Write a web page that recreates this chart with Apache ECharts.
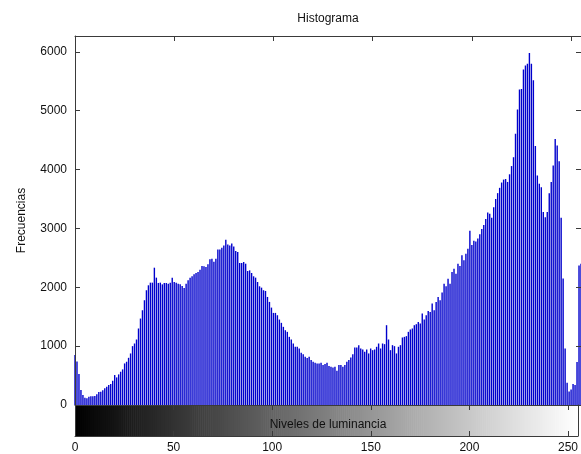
<!DOCTYPE html>
<html>
<head>
<meta charset="utf-8">
<script src="https://cdn.jsdelivr.net/npm/echarts@6/dist/echarts.min.js"></script>
<style>
  html, body { margin: 0; padding: 0; background: #ffffff; }
  #chart { width: 581px; height: 454px; }
</style>
</head>
<body>
<div id="chart"></div>
<script>
// Pixel counts per luminance level (0..255)
const counts = [
  848, 740, 525, 254, 170, 124, 113, 141, 147, 147,
  153, 181, 220, 226, 249, 283, 311, 339, 356, 412,
  509, 469, 520, 565, 605, 706, 735, 802, 876, 1000,
  1045, 1113, 1300, 1469, 1610, 1780, 1950, 2034, 2079, 2079,
  2333, 2164, 2074, 2079, 2050, 2074, 2074, 2062, 2079, 2164,
  2090, 2079, 2062, 2050, 2022, 1990, 2062, 2119, 2164, 2187,
  2220, 2243, 2260, 2300, 2362, 2356, 2345, 2390, 2475, 2486,
  2435, 2486, 2644, 2644, 2672, 2712, 2808, 2729, 2712, 2746,
  2695, 2616, 2599, 2413, 2413, 2430, 2401, 2277, 2288, 2243,
  2187, 2164, 2090, 2017, 1994, 1950, 1938, 1836, 1752, 1655,
  1565, 1565, 1525, 1452, 1396, 1328, 1271, 1243, 1158, 1113,
  1045, 989, 989, 960, 887, 864, 819, 797, 819, 763,
  734, 718, 706, 706, 718, 678, 695, 718, 661, 650,
  638, 650, 582, 678, 678, 650, 678, 734, 763, 808,
  864, 977, 977, 1017, 960, 943, 904, 943, 876, 960,
  932, 943, 989, 1045, 960, 1045, 1034, 1356, 1113, 932,
  1017, 1000, 876, 989, 1017, 1147, 1158, 1170, 1243, 1283,
  1300, 1356, 1373, 1412, 1384, 1554, 1452, 1525, 1599, 1582,
  1723, 1610, 1751, 1836, 1780, 1910, 2062, 2017, 2147, 2062,
  2260, 2316, 2232, 2401, 2362, 2543, 2458, 2571, 2655, 2960,
  2720, 2790, 2780, 2830, 2900, 2990, 3060, 3160, 3270, 3250,
  3180, 3360, 3500, 3600, 3690, 3780, 3830, 3840, 3790, 3920,
  4060, 4210, 4610, 5020, 5360, 5370, 5700, 5770, 5800, 5980,
  5800, 5520, 4400, 3900, 3760, 3700, 3280, 3190, 3280, 3600,
  3790, 4070, 4520, 4410, 4140, 3180, 2150, 960, 380, 230,
  265, 355, 340, 730, 2370, 2400
];

// Gray levels shown on the horizontal axis and in the shade strip
const grayLevels = counts.map((_, i) => i);

// Axis extents and tick spacing
const levelMin = 0;
const levelMax = 255;
const levelTickStep = 50;
const countMin = 0;
const countMax = 6270;
const countTickStep = 1000;

const FONT = "'Liberation Sans', Arial, Helvetica, sans-serif";
const AXIS_COLOR = '#3a3a3a';
const TEXT_COLOR = '#111111';
const STEM_COLOR = '#0000cc';

const chart = echarts.init(document.getElementById('chart'), null, { renderer: 'canvas' });

const boxLine = { show: true, onZero: false, lineStyle: { color: AXIS_COLOR, width: 1 } };
const inTick = { show: true, inside: true, length: 5, lineStyle: { color: AXIS_COLOR } };

const option = {
  animation: false,
  backgroundColor: '#ffffff',
  grid: [
    { left: 75, top: 36, width: 507.6, height: 369 },
    { left: 75, top: 405, width: 507.6, height: 31 }
  ],
  xAxis: [
    { // histogram, bottom edge (carries the axis title, drawn over the shade strip)
      type: 'value', gridIndex: 0, position: 'bottom', z: 10,
      min: levelMin, max: levelMax, interval: levelTickStep,
      axisLine: { show: false, onZero: false }, axisTick: { show: false }, axisLabel: { show: false },
      splitLine: { show: false },
      name: 'Niveles de luminancia', nameLocation: 'middle', nameGap: 14,
      nameTextStyle: { fontFamily: FONT, fontSize: 12, color: TEXT_COLOR }
    },
    { // histogram, top edge (carries the title)
      type: 'value', gridIndex: 0, position: 'top',
      min: levelMin, max: levelMax, interval: levelTickStep,
      axisLine: boxLine, axisTick: inTick,
      axisLabel: { show: false }, splitLine: { show: false },
      name: 'Histograma', nameLocation: 'middle', nameGap: 11,
      nameTextStyle: { fontFamily: FONT, fontSize: 12, color: TEXT_COLOR }
    },
    { // shade strip, bottom edge with the level labels
      type: 'value', gridIndex: 1, position: 'bottom', z: 5,
      min: levelMin, max: levelMax, interval: levelTickStep,
      axisLine: boxLine, axisTick: inTick,
      axisLabel: { show: true, margin: 6, fontFamily: FONT, fontSize: 12, color: TEXT_COLOR,
                   showMaxLabel: false },
      splitLine: { show: false }
    },
    { // shade strip, top edge
      type: 'value', gridIndex: 1, position: 'top', z: 5,
      min: levelMin, max: levelMax, interval: levelTickStep,
      axisLine: boxLine, axisTick: inTick,
      axisLabel: { show: false }, splitLine: { show: false }
    }
  ],
  yAxis: [
    {
      type: 'value', gridIndex: 0, position: 'left', z: 5,
      min: countMin, max: countMax, interval: countTickStep,
      axisLine: boxLine, axisTick: inTick,
      axisLabel: { show: true, margin: 8, fontFamily: FONT, fontSize: 12, color: TEXT_COLOR,
                   showMaxLabel: false,
                   formatter: v => (v % countTickStep === 0 ? String(v) : '') },
      splitLine: { show: false },
      name: 'Frecuencias', nameLocation: 'middle', nameGap: 47,
      nameTextStyle: { fontFamily: FONT, fontSize: 12, color: TEXT_COLOR }
    },
    {
      type: 'value', gridIndex: 0, position: 'right', z: 5,
      min: countMin, max: countMax, interval: countTickStep,
      axisLine: boxLine, axisTick: inTick,
      axisLabel: { show: false }, splitLine: { show: false }
    },
    {
      type: 'value', gridIndex: 1, position: 'left', min: 0, max: 1, z: 5,
      axisLine: boxLine, axisTick: { show: false }, axisLabel: { show: false },
      splitLine: { show: false }
    },
    {
      type: 'value', gridIndex: 1, position: 'right', min: 0, max: 1, z: 5,
      axisLine: boxLine, axisTick: { show: false }, axisLabel: { show: false },
      splitLine: { show: false }
    }
  ],
  series: [
    { // luminance shade strip: one cell per gray level
      type: 'custom',
      xAxisIndex: 2, yAxisIndex: 2,
      silent: true,
      clip: true,
      z: 1,
      data: grayLevels.map(l => [l]),
      renderItem: function (params, api) {
        const lv = api.value(0);
        const a = api.coord([lv - 0.5, 1]);
        const b = api.coord([lv + 0.5, 0]);
        const shape = echarts.graphic.clipRectByRect(
          { x: a[0], y: a[1], width: b[0] - a[0] + 0.6, height: b[1] - a[1] },
          { x: params.coordSys.x, y: params.coordSys.y,
            width: params.coordSys.width, height: params.coordSys.height }
        );
        if (!shape) return null;
        return { type: 'rect', shape: shape, style: { fill: 'rgb(' + lv + ',' + lv + ',' + lv + ')' } };
      }
    },
    { // histogram stems
      type: 'bar',
      xAxisIndex: 0, yAxisIndex: 0,
      barWidth: 1.4,
      itemStyle: { color: STEM_COLOR },
      z: 2,
      data: counts.map((c, i) => [grayLevels[i], c])
    }
  ]
};

chart.setOption(option);
</script>
</body>
</html>
